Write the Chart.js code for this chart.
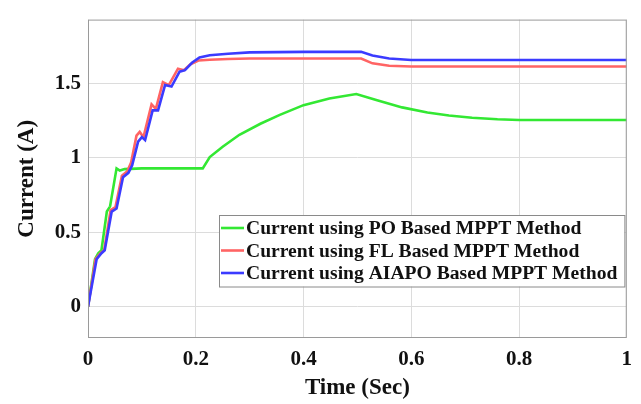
<!DOCTYPE html>
<html>
<head>
<meta charset="utf-8">
<title>Current response</title>
<script src="https://cdn.jsdelivr.net/npm/chart.js@4.4.1/dist/chart.umd.min.js"></script>
<style>
  html, body { margin: 0; padding: 0; background: #fff; }
  #currentChart { display: block; }
</style>
</head>
<body>
<canvas id="currentChart" width="641" height="404"></canvas>
<script>
"use strict";

// PO based MPPT current (A) against time (s)
const poTime = [0, 0.013, 0.019, 0.025, 0.035, 0.041, 0.053, 0.059, 0.068, 0.1, 0.15, 0.213,
  0.226, 0.25, 0.281, 0.32, 0.356, 0.4, 0.448, 0.498, 0.535, 0.583, 0.63, 0.67, 0.713, 0.76,
  0.8, 0.9, 1.0];
const poCurrent = [0, 0.32, 0.36, 0.38, 0.64, 0.675, 0.93, 0.915, 0.925, 0.93, 0.93, 0.93,
  1.006, 1.075, 1.156, 1.23, 1.29, 1.355, 1.4, 1.43, 1.39, 1.34, 1.305, 1.285, 1.27, 1.26,
  1.255, 1.255, 1.255];

// FL based MPPT current
const flTime = [0, 0.014, 0.023, 0.03, 0.042, 0.051, 0.063, 0.073, 0.08, 0.09, 0.096, 0.103,
  0.118, 0.126, 0.139, 0.15, 0.167, 0.178, 0.19, 0.205, 0.226, 0.26, 0.3, 0.4, 0.507, 0.528,
  0.559, 0.6, 0.7, 0.8, 0.9, 1.0];
const flCurrent = [0, 0.32, 0.36, 0.38, 0.65, 0.67, 0.88, 0.91, 0.97, 1.15, 1.175, 1.14,
  1.36, 1.33, 1.51, 1.49, 1.6, 1.59, 1.63, 1.655, 1.66, 1.665, 1.669, 1.669, 1.669, 1.636,
  1.62, 1.615, 1.615, 1.615, 1.615, 1.615];

// AIAPO based MPPT current
const aiapoTime = [0, 0.016, 0.025, 0.031, 0.044, 0.053, 0.065, 0.075, 0.082, 0.093, 0.1, 0.106,
  0.12, 0.13, 0.143, 0.155, 0.17, 0.18, 0.193, 0.207, 0.226, 0.26, 0.3, 0.4, 0.507, 0.528,
  0.559, 0.6, 0.7, 0.8, 0.9, 1.0];
const aiapoCurrent = [0, 0.32, 0.36, 0.38, 0.64, 0.66, 0.87, 0.9, 0.95, 1.11, 1.14, 1.12,
  1.32, 1.32, 1.49, 1.48, 1.58, 1.59, 1.64, 1.675, 1.69, 1.7, 1.71, 1.713, 1.713, 1.688,
  1.669, 1.658, 1.658, 1.658, 1.658, 1.658];

const seriesLabels = [
  "Current using PO Based MPPT Method",
  "Current using FL Based MPPT Method",
  "Current using AIAPO Based MPPT Method"
];
const seriesColors = ["#33e833", "#ff6464", "#3b3bff"];

const xTicks = [0, 0.2, 0.4, 0.6, 0.8, 1];
const xTickLabels = ["0", "0.2", "0.4", "0.6", "0.8", "1"];
const yTicks = [0, 0.5, 1, 1.5];
const yTickLabels = ["0", "0.5", "1", "1.5"];

const FONT_FAMILY = "'Liberation Serif', 'Times New Roman', serif";

function toPoints(times, values) {
  return times.map((t, i) => ({ x: t, y: values[i] }));
}

function makeDataset(index, times, values) {
  return {
    label: seriesLabels[index],
    data: toPoints(times, values),
    borderColor: seriesColors[index],
    backgroundColor: seriesColors[index],
    borderWidth: 2.6,
    pointRadius: 0,
    tension: 0,
    fill: false,
    // later series sit on top of earlier ones
    order: 3 - index
  };
}

// grey frame round the plot area
const frameBox = {
  id: "frameBox",
  afterDatasetsDraw(chart) {
    const { ctx, chartArea: a } = chart;
    ctx.save();
    ctx.strokeStyle = "#9a9a9a";
    ctx.lineWidth = 1;
    ctx.strokeRect(a.left + 0.5, a.top + 0.5, a.right - a.left - 1, a.bottom - a.top - 1);
    ctx.restore();
  }
};

// boxed legend inside the plot, lower right
const boxLegend = {
  id: "boxLegend",
  afterDraw(chart) {
    const { ctx } = chart;
    const sets = chart.data.datasets;
    const left = 219;
    const top = 215;
    const rowGap = 22.5;
    const sampleLen = 23;
    ctx.save();
    ctx.font = `bold 19.6px ${FONT_FAMILY}`;
    const textWidth = Math.max(...sets.map((d) => ctx.measureText(d.label).width));
    const width = sampleLen + 6 + textWidth + 5;
    const height = rowGap * sets.length + 4;
    ctx.fillStyle = "#fff";
    ctx.fillRect(left, top, width, height);
    ctx.strokeStyle = "#8a8a8a";
    ctx.lineWidth = 1;
    ctx.strokeRect(left + 0.5, top + 0.5, width, height);
    sets.forEach((d, i) => {
      const y = top + 13 + i * rowGap;
      ctx.strokeStyle = d.borderColor;
      ctx.lineWidth = 2.6;
      ctx.beginPath();
      ctx.moveTo(left + 2, y);
      ctx.lineTo(left + 2 + sampleLen, y);
      ctx.stroke();
      ctx.fillStyle = "#111";
      ctx.textBaseline = "middle";
      ctx.textAlign = "left";
      ctx.fillText(d.label, left + sampleLen + 4, y + 1);
    });
    ctx.restore();
  }
};

const canvas = document.getElementById("currentChart");
new Chart(canvas, {
  type: "line",
  data: {
    datasets: [
      makeDataset(0, poTime, poCurrent),
      makeDataset(1, flTime, flCurrent),
      makeDataset(2, aiapoTime, aiapoCurrent)
    ]
  },
  options: {
    responsive: false,
    animation: false,
    layout: { padding: { top: 9, right: 11, left: 0, bottom: 0 } },
    plugins: {
      legend: { display: false },
      tooltip: { enabled: false }
    },
    scales: {
      x: {
        type: "linear",
        min: 0,
        max: 1,
        afterBuildTicks: (scale) => { scale.ticks = xTicks.map((v) => ({ value: v })); },
        afterFit: (scale) => { scale.height = 66; },
        grid: { color: "#dcdcdc", lineWidth: 1, drawTicks: false },
        border: { display: false },
        ticks: {
          padding: 9,
          color: "#111",
          font: { family: FONT_FAMILY, size: 21, weight: "bold" },
          maxRotation: 0,
          callback: (value) => xTickLabels[xTicks.indexOf(value)]
        },
        title: {
          display: true,
          text: "Time (Sec)",
          color: "#111",
          font: { family: FONT_FAMILY, size: 23, weight: "bold" },
          padding: { top: 0, bottom: 2 }
        }
      },
      y: {
        type: "linear",
        min: -0.21,
        max: 1.93,
        afterBuildTicks: (scale) => { scale.ticks = yTicks.map((v) => ({ value: v })); },
        afterFit: (scale) => { scale.width = 88; },
        grid: { color: "#dcdcdc", lineWidth: 1, drawTicks: false },
        border: { display: false },
        ticks: {
          padding: 7,
          color: "#111",
          font: { family: FONT_FAMILY, size: 21, weight: "bold" },
          callback: (value) => yTickLabels[yTicks.indexOf(value)]
        },
        title: {
          display: true,
          text: "Current (A)",
          color: "#111",
          font: { family: FONT_FAMILY, size: 23, weight: "bold" },
          padding: { top: 13, bottom: 0 }
        }
      }
    }
  },
  plugins: [frameBox, boxLegend]
});
</script>
</body>
</html>
